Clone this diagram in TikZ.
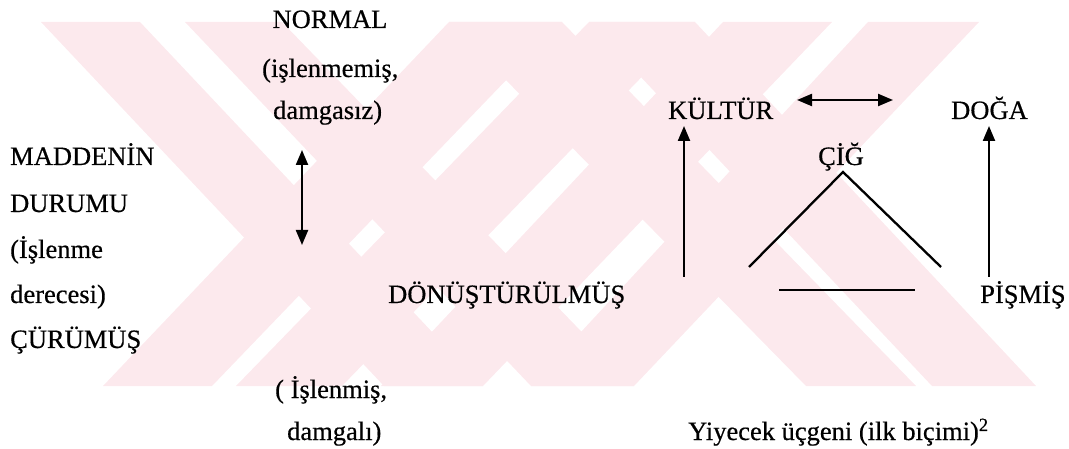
\documentclass[tikz,border=0pt]{standalone}
\usepackage{fontspec}
\setmainfont{Liberation Serif}[FakeBold=0.5]
\usetikzlibrary{arrows.meta}
\definecolor{wm}{RGB}{252,233,237}
\begin{document}
\begin{tikzpicture}[x=1pt,y=-1pt,
  lbl/.style={inner sep=0pt, anchor=base west, font=\fontsize{26.5}{30}\selectfont},
  lblc/.style={lbl, anchor=base},
  tipA/.style={-{Triangle[length=15pt,width=12pt]}},
  arr/.style={line width=2.2pt, tipA},
  darr/.style={line width=2.2pt, {Triangle[length=15pt,width=12pt]}-{Triangle[length=15pt,width=12pt]}},
  ln/.style={line width=2.3pt},
  wmark/.style={fill=wm, draw=none}]
\useasboundingbox (0,0) rectangle (1069,449);
% watermark: stripes of two overlapping X shapes
\path[wmark] (41,22) -- (140,22) -- (483,386) -- (384,386) -- cycle;
\path[wmark] (185,22) -- (282,22) -- (634,386) -- (531,386) -- cycle;
\path[wmark] (449,22) -- (562,22) -- (916,386) -- (806,386) -- cycle;
\path[wmark] (589,22) -- (695,22) -- (1036,386) -- (932,386) -- cycle;
\path[wmark] (103,386) -- (212,386) -- (562,22) -- (449,22) -- cycle;
\path[wmark] (236,386) -- (342,386) -- (695,22) -- (589,22) -- cycle;
\path[wmark] (381,386) -- (483,386) -- (832,22) -- (723,22) -- cycle;
\path[wmark] (531,386) -- (634,386) -- (979,22) -- (868,22) -- cycle;
% left texts
\node[lblc] (normal) at (330,28) {NORMAL};
\node[lbl] (islenmemis) at (262,77) {(işlenmemiş,};
\node[lbl] (damgasiz) at (273,119) {damgasız)};
\node[lbl] (madde) at (10,165) {MADDENİN};
\node[lbl] (durumu) at (10,212) {DURUMU};
\node[lbl] (islenme) at (10,258) {(İşlenme};
\node[lbl] (derecesi) at (10,303) {derecesi)};
\node[lbl] (curumus) at (10,348) {ÇÜRÜMÜŞ};
\node[lbl] (islenmis) at (275,398) {( İşlenmiş,};
\node[lbl] (damgali) at (287,440) {damgalı)};
\node[lbl] (donus) at (388,303) {DÖNÜŞTÜRÜLMÜŞ};
% right texts
\node[lbl] (kultur) at (668,119) {KÜLTÜR};
\node[lbl] (doga) at (951,119) {DOĞA};
\node[lblc] (cig) at (841,165) {ÇİĞ};
\node[lbl] (pismis) at (980,303) {PİŞMİŞ};
\node[lbl] (caption) at (688,440) {Yiyecek üçgeni (ilk biçimi)\textsuperscript{2}};
% coordinates
\coordinate (va) at (302,150);
\coordinate (vb) at (302,245);
\coordinate (ha) at (797,100);
\coordinate (hb) at (893,100);
\coordinate (ka) at (684,277);
\coordinate (kb) at (684,126);
\coordinate (da) at (989,277);
\coordinate (db) at (989,126);
\coordinate (tA) at (843,172);
\coordinate (tL) at (749,267);
\coordinate (tR) at (941,267);
\coordinate (bL) at (779,290);
\coordinate (bR) at (915,290);
% connectors
\draw[darr] (va) -- (vb);
\draw[darr] (ha) -- (hb);
\draw[arr] (ka) -- (kb);
\draw[arr] (da) -- (db);
\draw[ln] (tL) -- (tA) -- (tR);
\draw[ln] (bL) -- (bR);
\end{tikzpicture}
\end{document}
